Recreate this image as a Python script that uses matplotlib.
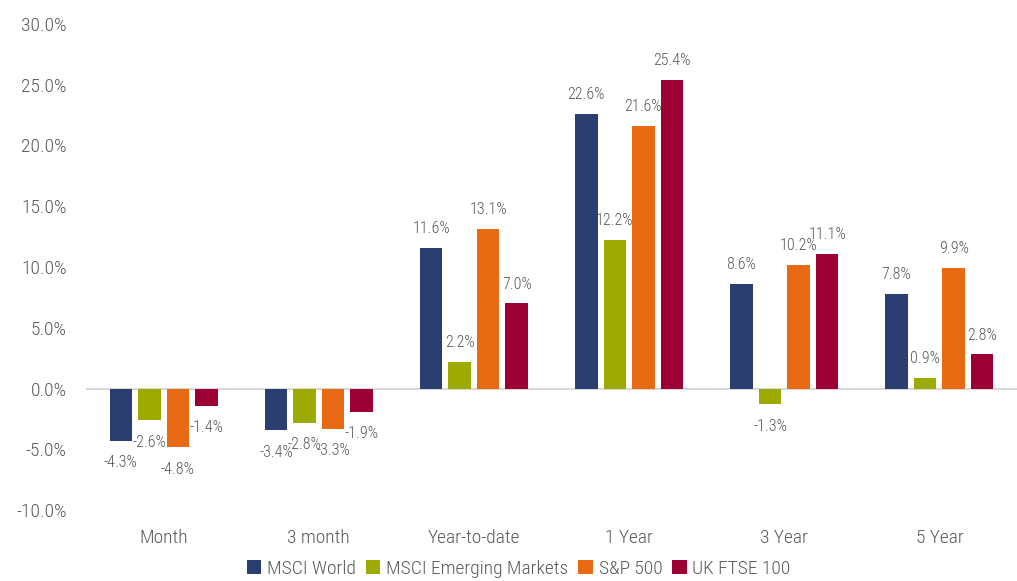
import matplotlib.pyplot as plt
import matplotlib.font_manager as fm
import numpy as np

categories = ['Month', '3 month', 'Year-to-date', '1 Year', '3 Year', '5 Year']
series_names = ['MSCI World', 'MSCI Emerging Markets', 'S&P 500', 'UK FTSE 100']
msci_world = [-4.3, -3.4, 11.6, 22.6, 8.6, 7.8]
msci_em = [-2.6, -2.8, 2.2, 12.2, -1.3, 0.9]
sp500 = [-4.8, -3.3, 13.1, 21.6, 10.2, 9.9]
ftse100 = [-1.4, -1.9, 7.0, 25.4, 11.1, 2.8]
colors = ['#2a3f6f', '#9dab00', '#e86a13', '#9c0034']

names = {f.name for f in fm.fontManager.ttflist}
fam = [n for n in ['Liberation Sans Narrow', 'Roboto Condensed', 'Open Sans Condensed', 'Arial Narrow'] if n in names]
if fam:
    plt.rcParams['font.family'] = fam + ['DejaVu Sans']
else:
    plt.rcParams['font.family'] = ['DejaVu Sans']
    plt.rcParams['font.stretch'] = 'condensed'
plt.rcParams['font.weight'] = 'light'
txt = '#595959'

fig = plt.figure(figsize=(10.17, 5.81), dpi=100)
ax = fig.add_axes([86/1017, 1-510/581, 1-86/1017, (510-24)/581])

x = np.arange(len(categories))
w = 0.145
step = 0.184
data = [msci_world, msci_em, sp500, ftse100]
for i, (vals, c, n) in enumerate(zip(data, colors, series_names)):
    pos = x + (i - 1.5) * step
    ax.bar(pos, vals, w, color=c, label=n, zorder=3)
    for p, v in zip(pos, vals):
        off = 14 if v >= 0 else -16
        ax.annotate(f'{v:.1f}%', (p, v), xytext=(0, off), textcoords='offset points',
                    ha='center', va='center', fontsize=11.5, color=txt)

ax.axhline(0, color='#d9d9d9', lw=1.5, zorder=2)
ax.set_ylim(-10, 30)
ax.set_xlim(-0.5, len(categories) - 0.5)
ax.set_yticks(np.arange(-10, 31, 5))
ax.set_yticklabels([f'{t:.1f}%' for t in np.arange(-10, 31, 5)])
ax.set_xticks(x)
ax.set_xticklabels(categories)
ax.tick_params(axis='y', length=0, labelsize=14, labelcolor=txt, pad=14)
ax.tick_params(axis='x', length=0, labelsize=14, labelcolor=txt, pad=14)
for s in ax.spines.values():
    s.set_visible(False)

leg = fig.legend(loc='lower center', bbox_to_anchor=(0.51, -0.025), ncol=4, frameon=False,
                 fontsize=14, handlelength=0.75, handleheight=0.75, handletextpad=0.3,
                 columnspacing=0.5, labelcolor=txt)

fig.savefig('out.png', dpi=100)
